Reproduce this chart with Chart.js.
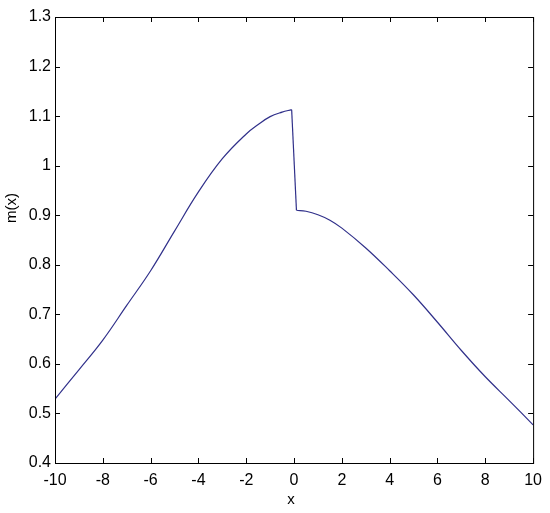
<!DOCTYPE html>
<html>
<head>
<meta charset="utf-8">
<script src="https://cdn.jsdelivr.net/npm/chart.js@4/dist/chart.umd.min.js"></script>
<style>
  html, body { margin: 0; padding: 0; background: #fff; }
  #wrap { width: 550px; height: 513px; }
</style>
</head>
<body>
<div id="wrap"><canvas id="mChart" width="550" height="513"></canvas></div>
<script>
// Curve m(x)
const xValues = [-10, -9, -8, -7, -6, -5, -4, -3, -2, -1.5, -1, -0.5, -0.1, 0.1, 0.5, 1, 1.5, 2, 3, 4, 5, 6, 7, 8, 9, 10];
const mValues = [0.529, 0.588, 0.648, 0.718, 0.788, 0.868, 0.947, 1.014, 1.064, 1.083, 1.099, 1.108, 1.113, 0.910, 0.908, 0.901, 0.890, 0.874, 0.834, 0.788, 0.739, 0.684, 0.627, 0.574, 0.526, 0.477];

const xTicks = [-10, -8, -6, -4, -2, 0, 2, 4, 6, 8, 10];
const yTicks = [0.4, 0.5, 0.6, 0.7, 0.8, 0.9, 1.0, 1.1, 1.2, 1.3];

const FONT = "'Liberation Sans Narrow', 'Liberation Sans', Arial, sans-serif";
const LINE_COLOR = '#30308a';

const points = xValues.map((x, i) => ({ x: x, y: mValues[i] }));
// smooth each branch on its own so the jump at x = 0 stays a straight drop
const leftBranch = points.filter(p => p.x < 0);
const rightBranch = points.filter(p => p.x > 0);
const jump = [leftBranch[leftBranch.length - 1], rightBranch[0]];

function lineSet(data, tension) {
    return {
        data: data,
        borderColor: LINE_COLOR,
        borderWidth: 1.2,
        pointRadius: 0,
        tension: tension,
        fill: false
    };
}

// MATLAB-style box with inward ticks on all four sides, plus axis labels
const boxPlugin = {
    id: 'matlabBox',
    afterDraw(chart) {
        const { ctx, chartArea: a, scales } = chart;
        const len = 5;
        ctx.save();
        ctx.strokeStyle = '#000';
        ctx.lineWidth = 1;
        ctx.strokeRect(a.left + 0.5, a.top + 0.5, a.right - a.left, a.bottom - a.top);

        ctx.beginPath();
        xTicks.forEach(v => {
            const px = Math.round(scales.x.getPixelForValue(v)) + 0.5;
            ctx.moveTo(px, a.bottom); ctx.lineTo(px, a.bottom - len);
            ctx.moveTo(px, a.top); ctx.lineTo(px, a.top + len);
        });
        yTicks.forEach(v => {
            const py = Math.round(scales.y.getPixelForValue(v)) + 0.5;
            ctx.moveTo(a.left, py); ctx.lineTo(a.left + len, py);
            ctx.moveTo(a.right, py); ctx.lineTo(a.right - len, py);
        });
        ctx.stroke();

        // axis labels
        ctx.fillStyle = '#000';
        ctx.font = '15px ' + FONT;
        ctx.textAlign = 'center';
        ctx.textBaseline = 'middle';
        ctx.fillText('x', (a.left + a.right) / 2 - 3, 500);
        ctx.translate(12, 208);
        ctx.rotate(-Math.PI / 2);
        ctx.fillText('m(x)', 0, 0);
        ctx.restore();
    }
};

const ctx = document.getElementById('mChart').getContext('2d');
new Chart(ctx, {
    type: 'line',
    data: {
        datasets: [
            lineSet(leftBranch, 0.4),
            lineSet(jump, 0),
            lineSet(rightBranch, 0.4)
        ]
    },
    options: {
        responsive: false,
        animation: false,
        layout: { padding: { left: 0, top: 17, right: 15, bottom: 0 } },
        plugins: { legend: { display: false }, tooltip: { enabled: false } },
        scales: {
            x: {
                type: 'linear',
                min: -10, max: 10,
                afterBuildTicks: s => { s.ticks = xTicks.map(v => ({ value: v })); },
                afterFit: s => { s.height = 50; },
                grid: { display: false, drawTicks: false },
                border: { display: false },
                ticks: {
                    color: '#000',
                    font: { family: FONT, size: 16 },
                    padding: 8,
                    maxRotation: 0,
                    callback: v => String(v)
                }
            },
            y: {
                min: 0.4, max: 1.3,
                afterBuildTicks: s => { s.ticks = yTicks.map(v => ({ value: v })); },
                afterFit: s => { s.width = 55; },
                grid: { display: false, drawTicks: false },
                border: { display: false },
                ticks: {
                    color: '#000',
                    font: { family: FONT, size: 16 },
                    padding: 4,
                    callback: v => String(Number(v.toFixed(1)))
                }
            }
        }
    },
    plugins: [boxPlugin]
});
</script>
</body>
</html>
